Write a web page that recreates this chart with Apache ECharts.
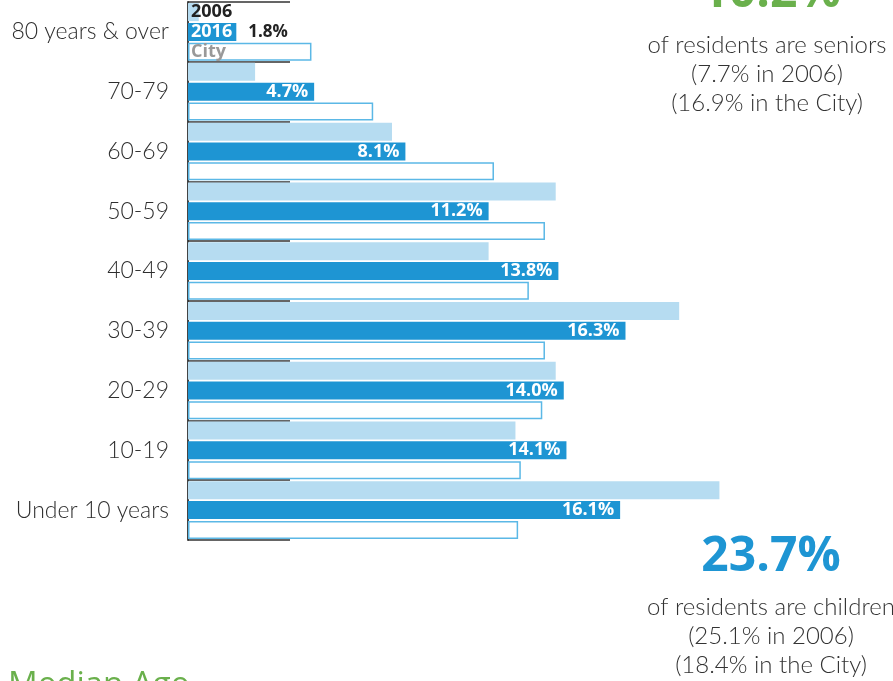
<!DOCTYPE html>
<html><head><meta charset="utf-8">
<script src="https://cdn.jsdelivr.net/npm/echarts@6/dist/echarts.min.js"></script>
<style>html,body{margin:0;padding:0;background:#fff}#c{width:893px;height:681px}</style>
</head><body><div id="c"></div>
<script>
const categories = ['80 years & over','70-79','60-69','50-59','40-49','30-39','20-29','10-19','Under 10 years'];
const values2006 = [0.4, 2.5, 7.6, 13.7, 11.2, 18.3, 13.7, 12.2, 19.8];
const values2016 = [1.8, 4.7, 8.1, 11.2, 13.8, 16.3, 14.0, 14.1, 16.1];
const valuesCity = [4.6, 6.9, 11.4, 13.3, 12.7, 13.3, 13.2, 12.4, 12.3];
const seriesNames = ['2006','2016','City'];

const FONT = '"Open Sans", sans-serif';
const LFONT = 'Lato, sans-serif';
const chart = echarts.init(document.getElementById('c'), null, {renderer:'canvas'});

const d2006 = values2006.map((v,i)=> i===0 ? {value:v, label:{show:true, position:'insideLeft', distance:3, formatter:seriesNames[0], color:'#222', fontWeight:'bold', fontSize:18, fontFamily:FONT}} : v);
const d2016 = values2016.map((v,i)=> i===0 ? {value:v, label:{show:true, position:'insideLeft', distance:3,
  formatter: p => '{a|'+seriesNames[1]+'}{b|'+p.value.toFixed(1)+'%}',
  rich:{a:{color:'#fff', fontWeight:'bold', fontSize:18, fontFamily:FONT}, b:{color:'#222', fontWeight:'bold', fontSize:17, fontFamily:FONT, padding:[0,0,0,16]}}}} : v);
const dCity = valuesCity.map((v,i)=> i===0 ? {value:v, label:{show:true, position:'insideLeft', distance:3, formatter:seriesNames[2], color:'#999', fontWeight:'bold', fontSize:18, fontFamily:FONT}} : v);

chart.setOption({
  animation:false,
  grid:{left:188, top:2, width:671, height:538, containLabel:false},
  xAxis:{type:'value', min:0, max:25, show:false},
  yAxis:{type:'category', data:categories, inverse:true, offset:5,
    axisLine:{show:true, lineStyle:{color:'#444', width:2}},
    axisTick:{show:true, inside:true, length:102, lineStyle:{color:'#333', width:1.5}},
    axisLabel:{margin:14, fontSize:23, color:'#2e2e2e', fontFamily:LFONT, fontWeight:300},
    splitLine:{show:false}},
  series:[
    {name:seriesNames[0], type:'bar', data:d2006, barWidth:18, barGap:'10%', itemStyle:{color:'#b6dcf1'}},
    {name:seriesNames[1], type:'bar', data:d2016, barWidth:18, barGap:'10%', itemStyle:{color:'#1e95d3'},
      label:{show:true, position:'insideRight', distance:6, formatter:p=>p.value.toFixed(1)+'%', color:'#fff', fontWeight:'bold', fontSize:18, fontFamily:FONT}},
    {name:seriesNames[2], type:'bar', data:dCity, barWidth:18, barGap:'10%', itemStyle:{color:'#fff', borderColor:'#5bb8e6', borderWidth:1.5}}
  ],
  graphic:[
    {type:'text', x:771, y:-31, style:{text:'10.2%', font:'bold 48px '+FONT, fill:'#6ab04c', textAlign:'center', textVerticalAlign:'top'}},
    {type:'text', x:767, y:33, style:{text:'of residents are seniors', font:'300 24px '+LFONT, fill:'#333', textAlign:'center', textVerticalAlign:'top'}},
    {type:'text', x:767, y:62, style:{text:'(7.7% in 2006)', font:'300 24px '+LFONT, fill:'#333', textAlign:'center', textVerticalAlign:'top'}},
    {type:'text', x:767, y:91, style:{text:'(16.9% in the City)', font:'300 24px '+LFONT, fill:'#333', textAlign:'center', textVerticalAlign:'top'}},
    {type:'text', x:771, y:533, style:{text:'23.7%', font:'bold 48px '+FONT, fill:'#1e95d3', textAlign:'center', textVerticalAlign:'top'}},
    {type:'text', x:771, y:595, style:{text:'of residents are children', font:'300 24px '+LFONT, fill:'#333', textAlign:'center', textVerticalAlign:'top'}},
    {type:'text', x:771, y:624, style:{text:'(25.1% in 2006)', font:'300 24px '+LFONT, fill:'#333', textAlign:'center', textVerticalAlign:'top'}},
    {type:'text', x:771, y:653, style:{text:'(18.4% in the City)', font:'300 24px '+LFONT, fill:'#333', textAlign:'center', textVerticalAlign:'top'}},
    {type:'text', x:8, y:669, style:{text:'Median Age', font:'33px '+FONT, fill:'#6ab04c', textAlign:'left', textVerticalAlign:'top'}}
  ]
});
</script></body></html>
